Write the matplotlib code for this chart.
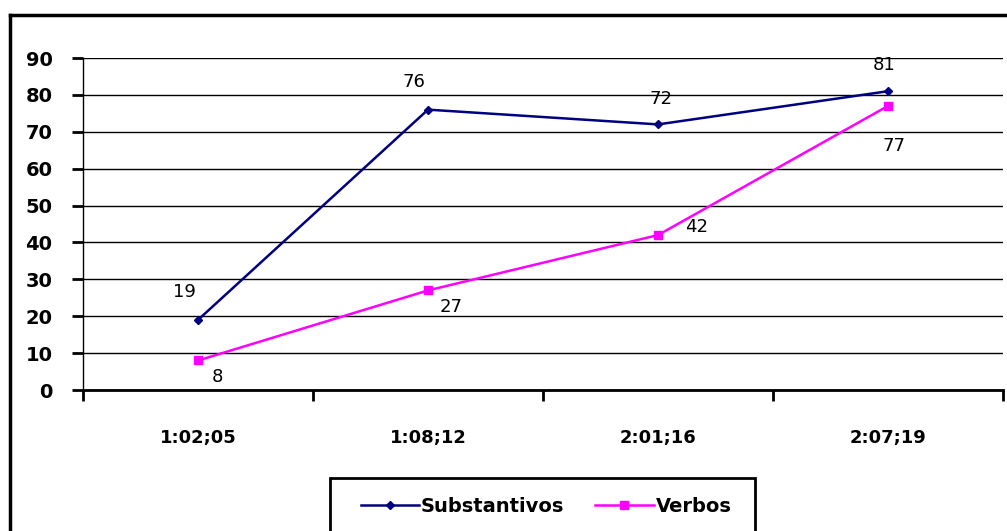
import matplotlib.pyplot as plt
from matplotlib.lines import Line2D
from matplotlib.patches import Rectangle

# dados do gráfico
categorias = ["1:02;05", "1:08;12", "2:01;16", "2:07;19"]
substantivos = [19, 76, 72, 81]
verbos = [8, 27, 42, 77]
y_ticks = [0, 10, 20, 30, 40, 50, 60, 70, 80, 90]

W, H = 1007, 531
fig = plt.figure(figsize=(W / 100, H / 100), dpi=100)
plt.rcParams['font.family'] = ['DejaVu Sans']

# moldura externa (cortada à direita e embaixo)
fig.add_artist(Line2D([10 / W, 10 / W], [1 - 15 / H, 0], transform=fig.transFigure,
                      color="black", lw=2.5))
fig.add_artist(Line2D([10 / W, 1.0], [1 - 15 / H, 1 - 15 / H], transform=fig.transFigure,
                      color="black", lw=2.5))

ax = fig.add_axes([83 / W, (H - 390) / H, (1003 - 83) / W, (390 - 58) / H])
x = list(range(len(categorias)))

ax.plot(x, substantivos, color="#000080", lw=1.8, marker="D", markersize=4,
        label="Substantivos")
ax.plot(x, verbos, color="#FF00FF", lw=1.8, marker="s", markersize=6,
        label="Verbos")

# rótulos dos valores
offs_s = [(-10, 20), (-10, 20), (2, 18), (-3, 19)]
offs_v = [(14, -12), (17, -12), (28, 6), (4, -29)]
for i, v in enumerate(substantivos):
    ax.annotate(str(v), (x[i], v), xytext=offs_s[i], textcoords="offset points",
                ha="center", va="center", fontsize=13)
for i, v in enumerate(verbos):
    ax.annotate(str(v), (x[i], v), xytext=offs_v[i], textcoords="offset points",
                ha="center", va="center", fontsize=13)

ax.set_xlim(-0.5, len(categorias) - 0.5)
ax.set_ylim(0, 90)
ax.set_yticks(y_ticks)
ax.set_yticklabels([str(t) for t in y_ticks], fontsize=14, fontweight="bold")
ax.yaxis.grid(True, color="black", lw=1.0)
ax.set_axisbelow(True)

ax.set_xticks(x)
ax.set_xticklabels(categorias, fontsize=13, fontweight="bold")
ax.set_xticks([i - 0.5 for i in range(len(categorias) + 1)], minor=True)
ax.tick_params(axis="x", which="major", length=0, pad=28)
ax.tick_params(axis="x", which="minor", length=8, width=2, direction="out")
ax.tick_params(axis="y", length=8, width=2, direction="out", pad=14)

for s in ["top", "right"]:
    ax.spines[s].set_visible(False)
ax.spines["left"].set_linewidth(1.0)
ax.spines["bottom"].set_linewidth(2.0)

# legenda embaixo com caixa cortada
fig.add_artist(Rectangle((330 / W, -0.05), (755 - 330) / W, 0.05 + (H - 478) / H,
                         transform=fig.transFigure, fill=False, ec="black", lw=2))
fig.legend(loc="center", bbox_to_anchor=(546 / W, 1 - 506 / H), ncol=2, frameon=False,
           prop={"size": 14, "weight": "bold"}, handlelength=3.0, columnspacing=1.6,
           handletextpad=0.1)

fig.savefig("out.png", dpi=100)
